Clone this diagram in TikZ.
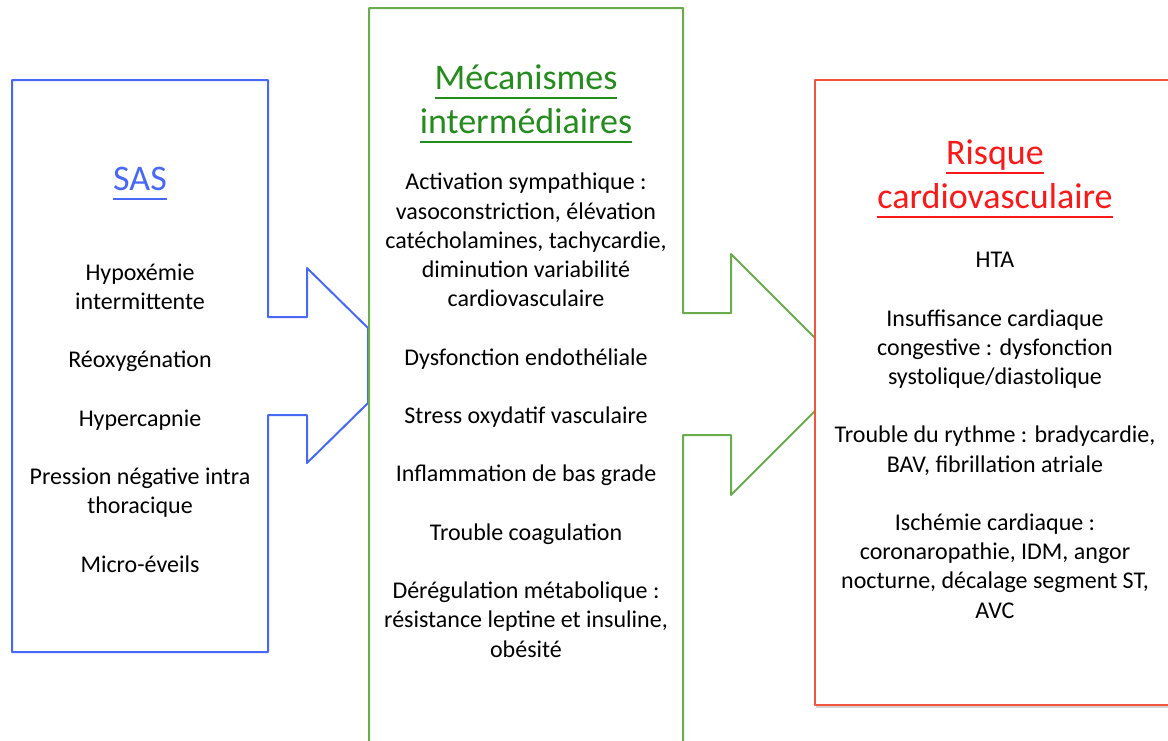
\documentclass[tikz,border=0pt]{standalone}
\usepackage{fontspec}
\setmainfont{Carlito}
\usetikzlibrary{shadows}
\definecolor{sasblue}{RGB}{72,104,246}
\definecolor{mecgreen}{RGB}{106,172,76}
\definecolor{mectitle}{RGB}{36,140,28}
\definecolor{riskred}{RGB}{242,84,62}
\definecolor{risktitle}{RGB}{250,24,24}
% underlined title word
\newcommand{\ulword}[1]{\setbox0\hbox{#1}\rlap{\rule[-9.8pt]{\wd0}{1.8pt}}\box0}

\begin{document}
\begin{tikzpicture}[x=1pt,y=-1pt,
  outline/.style={line width=2pt,line join=round},
  body/.style={align=center,font=\fontsize{24}{29.2}\selectfont,anchor=base,inner sep=0pt},
  title/.style={align=center,font=\fontsize{36}{44}\selectfont,anchor=base,inner sep=0pt}]
\useasboundingbox (0,0) rectangle (1168,740);

% SAS box with its arrow
\draw[outline,sasblue] (12,80) -- (268,80) -- (268,317) -- (307,317) -- (307,268)
  -- (368,328) -- (368,403) -- (307,463) -- (307,415) -- (268,415) -- (268,652)
  -- (12,652) -- cycle;

% mecanismes box with its arrow
\draw[outline,mecgreen] (369,8) -- (683,8) -- (683,313) -- (731,313) -- (731,254)
  -- (815,338) -- (815,411) -- (731,495) -- (731,435) -- (683,435) -- (683,760)
  -- (369,760) -- cycle;

% risque box
\draw[outline,riskred,fill=white,drop shadow={shadow xshift=1pt,shadow yshift=-2.5pt,opacity=0.35}]
  (815,80) rectangle (1176,705);

% base anchor = last line of each node
\node[title,text=sasblue] (sas) at (140,190) {\ulword{SAS}};
\node[body] (causes) at (140,572) {Hypoxémie\\intermittente\\[29.2pt]
  Réoxygénation\\[29.2pt]Hypercapnie\\[29.2pt]Pression négative intra\\thoracique\\[29.2pt]
  Micro-éveils};

\node[title,text=mectitle] (mec) at (526,133) {\ulword{Mécanismes}\\\ulword{intermédiaires}};
\node[body] (mecs) at (526,657) {Activation sympathique :\\vasoconstriction, élévation\\
  catécholamines, tachycardie,\\diminution variabilité\\cardiovasculaire\\[29.2pt]
  Dysfonction endothéliale\\[29.2pt]Stress oxydatif vasculaire\\[29.2pt]
  Inflammation de bas grade\\[29.2pt]Trouble coagulation\\[29.2pt]
  Dérégulation métabolique :\\résistance leptine et insuline,\\obésité};

\node[title,text=risktitle] (risk) at (995,208) {\ulword{Risque}\\\ulword{cardiovasculaire}};
\node[body] (risks) at (995,618) {HTA\\[29.2pt]Insuffisance cardiaque\\
  congestive : dysfonction\\systolique/diastolique\\[29.2pt]
  Trouble du rythme : bradycardie,\\BAV, fibrillation atriale\\[29.2pt]
  Ischémie cardiaque :\\coronaropathie, IDM, angor\\nocturne, décalage segment ST,\\AVC};
\end{tikzpicture}
\end{document}
